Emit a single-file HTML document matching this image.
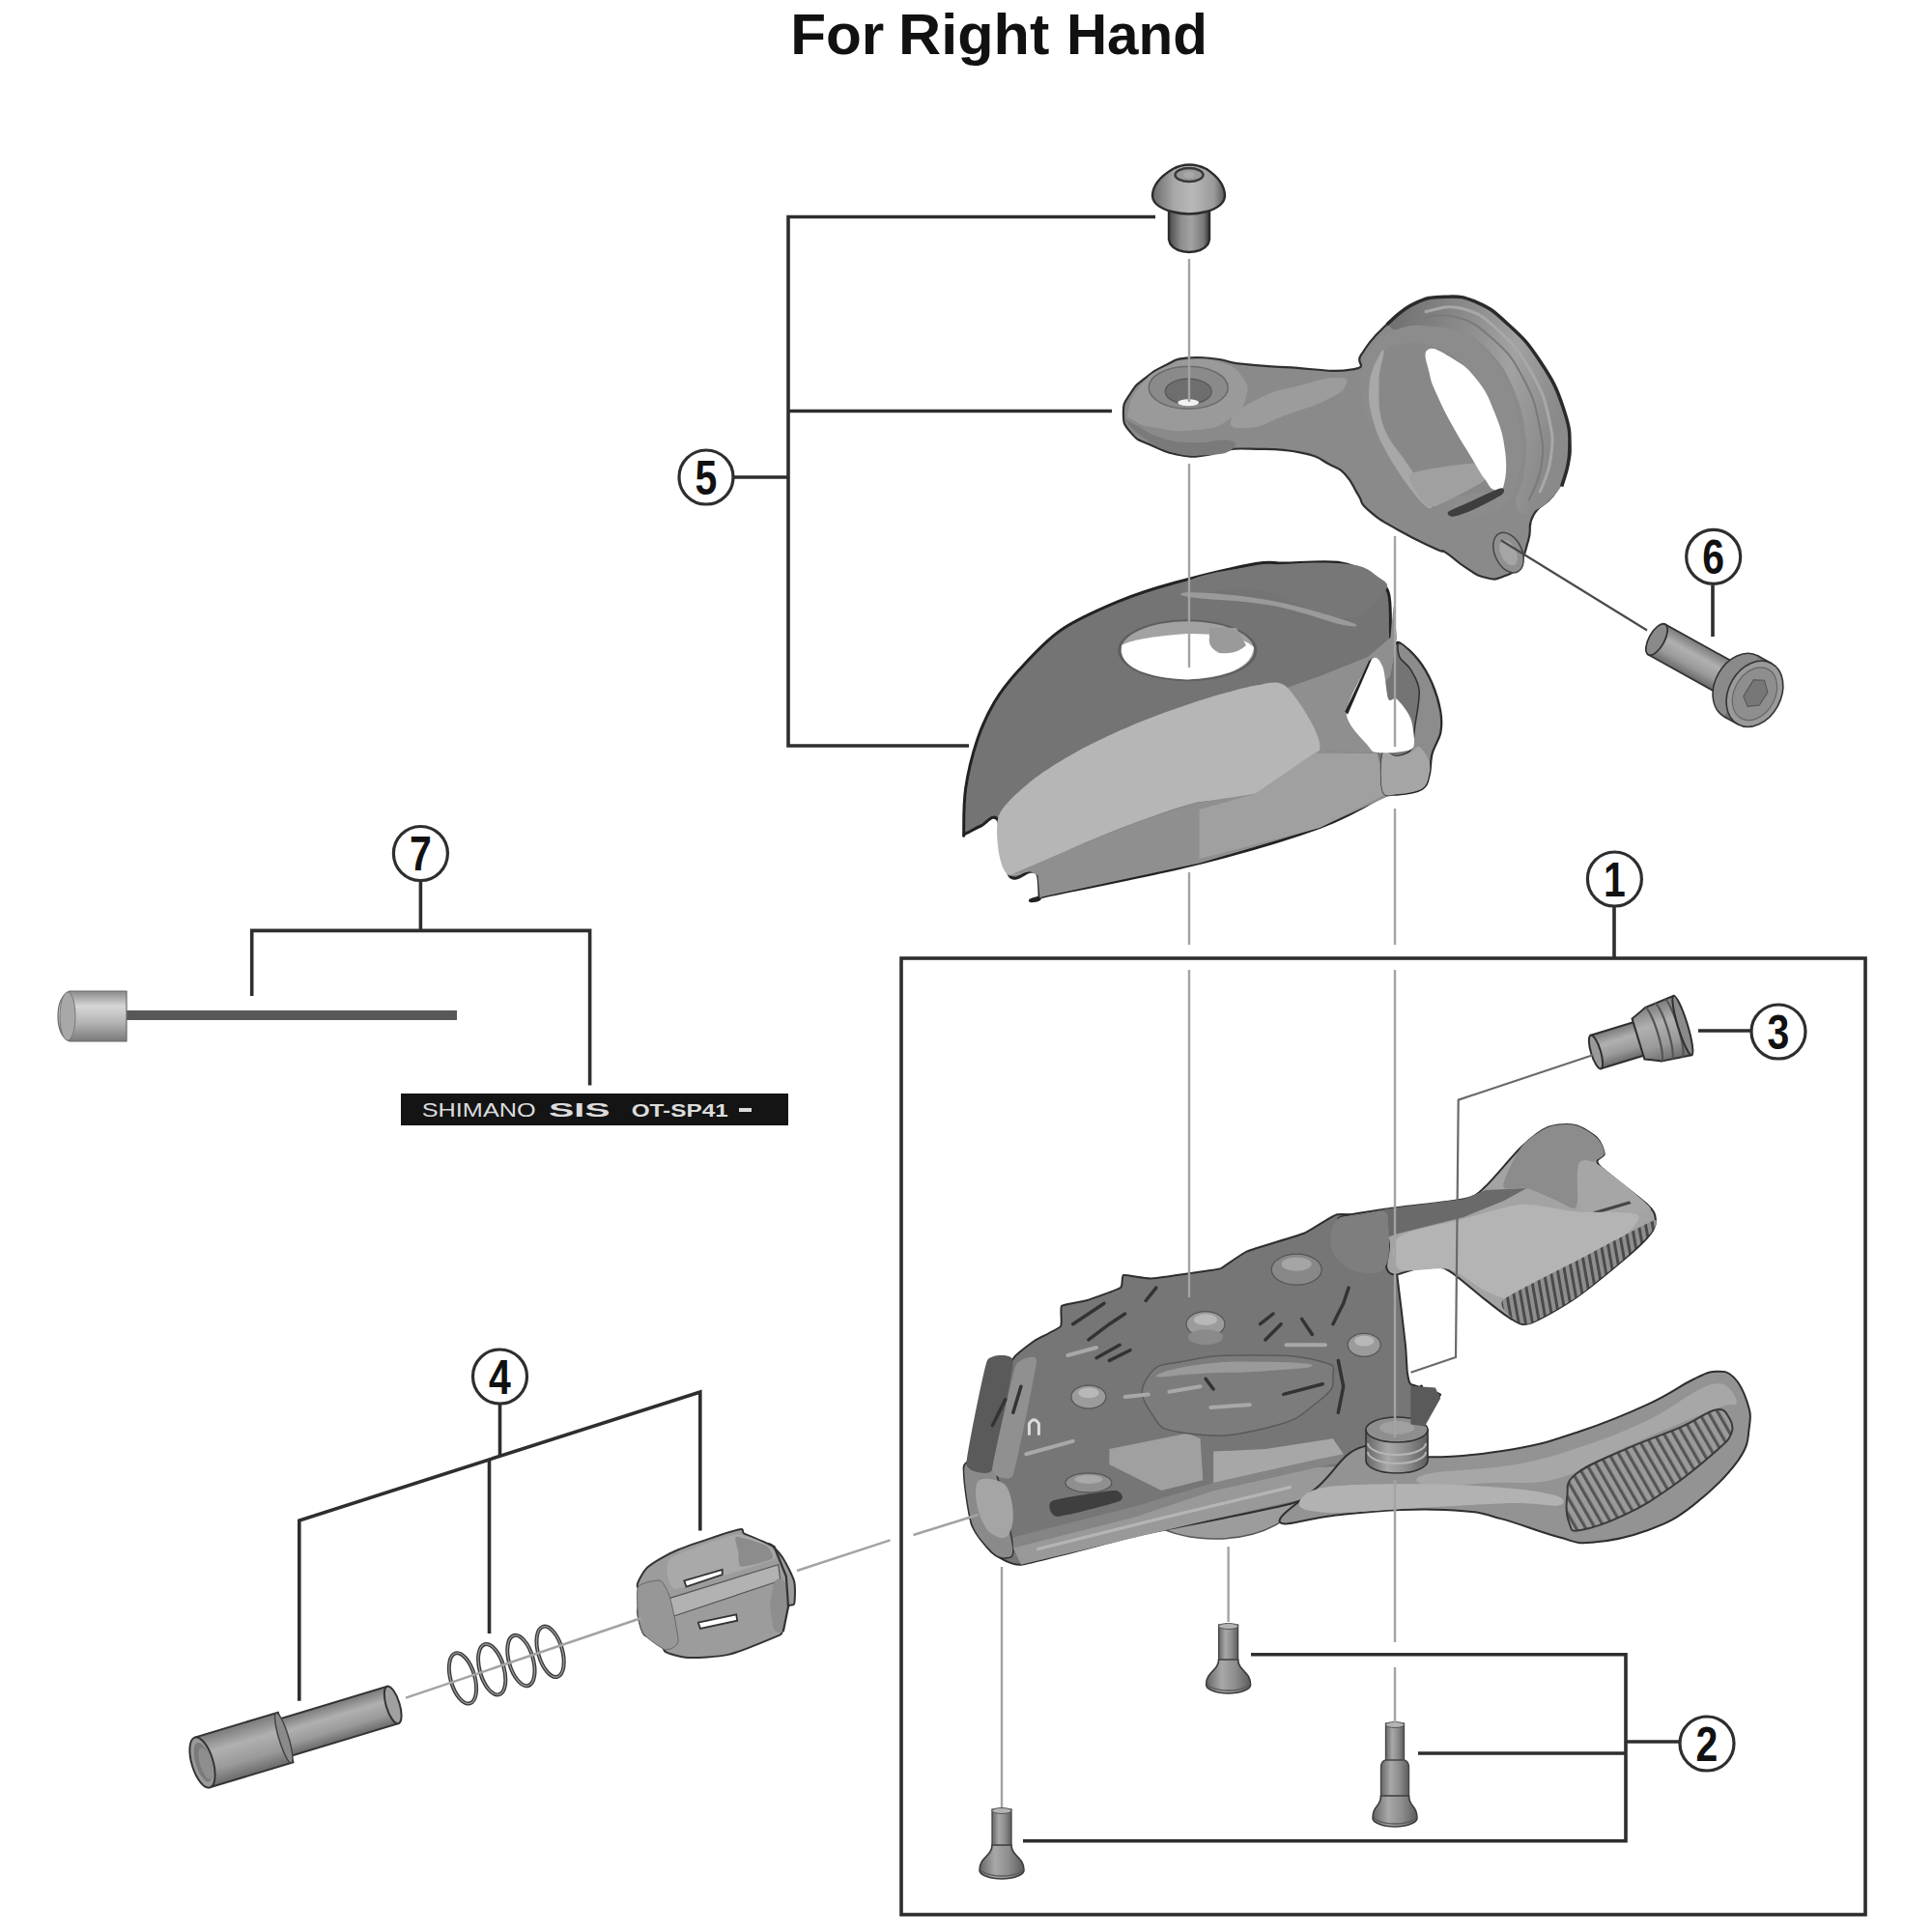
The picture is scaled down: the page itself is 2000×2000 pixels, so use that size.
<!DOCTYPE html>
<html><head><meta charset="utf-8"><style>
html,body{margin:0;padding:0;background:#fff;}
body{width:2000px;height:2000px;overflow:hidden;position:relative;font-family:"Liberation Sans",sans-serif;}
svg{position:absolute;left:0;top:0;}
</style></head><body>
<svg width="2000" height="2000" viewBox="0 0 2000 2000">
<defs>
<linearGradient id="gCylH" x1="0" x2="1" y1="0" y2="0"><stop offset="0" stop-color="#5e5e5e"/><stop offset="0.4" stop-color="#a4a4a4"/><stop offset="0.7" stop-color="#8a8a8a"/><stop offset="1" stop-color="#555"/></linearGradient>
<linearGradient id="gCylV" x1="0" x2="0" y1="0" y2="1"><stop offset="0" stop-color="#5e5e5e"/><stop offset="0.35" stop-color="#a4a4a4"/><stop offset="0.7" stop-color="#8a8a8a"/><stop offset="1" stop-color="#555"/></linearGradient>
<linearGradient id="gCylV2" x1="0" x2="0" y1="0" y2="1"><stop offset="0" stop-color="#7a7a7a"/><stop offset="0.35" stop-color="#b0b0b0"/><stop offset="0.7" stop-color="#9a9a9a"/><stop offset="1" stop-color="#6a6a6a"/></linearGradient>
<linearGradient id="gCylH2" x1="0" x2="1" y1="0" y2="0"><stop offset="0" stop-color="#666"/><stop offset="0.35" stop-color="#a8a8a8"/><stop offset="0.65" stop-color="#8e8e8e"/><stop offset="1" stop-color="#5c5c5c"/></linearGradient>
<linearGradient id="gScrewS" x1="0" x2="1" y1="0" y2="0"><stop offset="0" stop-color="#4a4a4a"/><stop offset="0.3" stop-color="#8e8e8e"/><stop offset="0.55" stop-color="#a2a2a2"/><stop offset="0.85" stop-color="#7a7a7a"/><stop offset="1" stop-color="#3a3a3a"/></linearGradient>
<linearGradient id="gScrewH" x1="0" x2="1" y1="0" y2="0"><stop offset="0" stop-color="#6a6a6a"/><stop offset="0.3" stop-color="#a8a8a8"/><stop offset="0.55" stop-color="#b8b8b8"/><stop offset="0.85" stop-color="#9a9a9a"/><stop offset="1" stop-color="#5a5a5a"/></linearGradient>
<linearGradient id="gRing2" x1="0" x2="1" y1="0" y2="0.3"><stop offset="0" stop-color="#6e6e6e"/><stop offset="0.45" stop-color="#8e8e8e"/><stop offset="0.7" stop-color="#a2a2a2"/><stop offset="1" stop-color="#8a8a8a"/></linearGradient>
<linearGradient id="gCable" x1="0" x2="0" y1="0" y2="1"><stop offset="0" stop-color="#8a8a8a"/><stop offset="0.3" stop-color="#d6d6d6"/><stop offset="0.6" stop-color="#b8b8b8"/><stop offset="1" stop-color="#7a7a7a"/></linearGradient>
<linearGradient id="gRing" x1="0" x2="1" y1="0" y2="0"><stop offset="0" stop-color="#7d7d7d"/><stop offset="0.5" stop-color="#a9a9a9"/><stop offset="1" stop-color="#8a8a8a"/></linearGradient>
<pattern id="ribs" patternUnits="userSpaceOnUse" width="8.5" height="10" patternTransform="rotate(-30)"><rect width="8.5" height="10" fill="#9a9a9a"/><rect width="3.2" height="10" fill="#555"/></pattern>
<pattern id="ribsU" patternUnits="userSpaceOnUse" width="7" height="10" patternTransform="rotate(-10)"><rect width="7" height="10" fill="#8e8e8e"/><rect width="3" height="10" fill="#4a4a4a"/></pattern>
<pattern id="ribs2" patternUnits="userSpaceOnUse" width="8" height="8" patternTransform="rotate(-20)"><rect width="8" height="8" fill="#8a8a8a"/><rect width="3.5" height="8" fill="#565656"/></pattern>
</defs>
<g font-family="Liberation Sans" font-weight="bold" font-size="60" fill="#111"><text x="818.2" y="55.5" textLength="97.1" lengthAdjust="spacingAndGlyphs">For</text><text x="930.1" y="55.5" textLength="156.2" lengthAdjust="spacingAndGlyphs">Right</text><text x="1103.9" y="55.5" textLength="145.9" lengthAdjust="spacingAndGlyphs">Hand</text></g>
<path d="M1210,214 L1252,214 L1252,248 Q1250,260 1231,261 Q1212,260 1210,248 Z" fill="url(#gScrewS)" stroke="#2c2c2c" stroke-width="2.4"/>
<path d="M1214,175 Q1231,166 1249,175 C1258,181 1268,190 1268,203 Q1267,214 1249,219 Q1231,224 1213,219 Q1194,214 1193,203 C1193,190 1204,181 1214,175 Z" fill="url(#gScrewH)" stroke="#2c2c2c" stroke-width="2.4"/>
<ellipse cx="1231" cy="181" rx="14.5" ry="7" fill="#9a9a9a" stroke="#3a3a3a" stroke-width="2.5"/>
<ellipse cx="1231" cy="181" rx="6" ry="3.2" fill="#a8a8a8"/>
<path d="M1162.9,427.2 C1162.9,416.1 1164.5,416.1 1170.7,406.5 C1176.9,396.8 1176.6,398.5 1186.2,390.9 C1195.9,383.3 1195.9,383.4 1206.9,378.0 C1218.0,372.6 1213.8,372.5 1227.6,370.7 C1241.4,369.0 1243.5,369.9 1258.7,371.5 C1273.9,373.1 1265.3,374.4 1284.6,376.7 C1303.9,379.0 1300.8,378.5 1331.2,380.1 C1361.5,381.6 1377.7,386.0 1398.4,382.7 C1419.2,379.3 1401.9,377.2 1408.8,367.6 C1415.7,358.1 1414.0,358.0 1424.3,346.9 C1434.7,335.9 1435.9,335.2 1447.6,326.2 C1459.4,317.3 1456.6,318.3 1468.3,313.3 C1480.1,308.3 1478.5,308.3 1491.6,307.6 C1504.7,306.9 1503.7,306.4 1517.5,310.7 C1531.3,315.0 1529.6,314.0 1543.4,323.6 C1557.2,333.3 1555.5,331.8 1569.3,346.9 C1583.1,362.1 1582.7,361.3 1595.1,380.6 C1607.6,399.9 1607.9,399.4 1615.8,419.4 C1623.8,439.4 1623.5,437.7 1624.9,455.6 C1626.3,473.6 1625.5,471.5 1621.0,486.7 C1616.5,501.9 1617.0,500.1 1608.1,512.6 C1599.1,525.0 1594.3,520.8 1587.4,533.3 C1580.5,545.7 1586.3,545.3 1582.2,559.2 C1578.1,573.0 1578.7,575.0 1571.8,585.0 C1564.9,595.0 1565.3,593.2 1556.3,596.7 C1547.3,600.1 1548.6,600.4 1538.2,598.0 C1527.8,595.6 1528.5,594.5 1517.5,587.6 C1506.5,580.7 1505.1,577.3 1496.8,572.1 C1488.5,566.9 1499.6,574.4 1486.4,568.2 C1473.3,562.0 1466.3,559.5 1447.6,548.8 C1429.0,538.1 1427.6,537.8 1416.6,528.1 C1405.5,518.4 1412.4,522.2 1406.2,512.6 C1400.0,502.9 1400.9,500.1 1393.3,491.9 C1385.7,483.6 1390.2,487.7 1377.7,481.5 C1365.3,475.3 1368.8,473.1 1346.7,468.6 C1324.6,464.1 1315.6,465.4 1294.9,464.7 C1274.2,464.0 1281.5,464.3 1269.0,466.0 C1256.6,467.7 1260.8,469.8 1248.3,471.2 C1235.9,472.5 1237.6,473.9 1222.5,471.2 C1207.3,468.4 1205.2,467.0 1191.4,460.8 C1177.6,454.6 1178.3,456.8 1170.7,447.9 C1163.1,438.9 1162.9,438.2 1162.9,427.2 Z" fill="#8a8a8a" stroke="#2f2f2f" stroke-width="2.2"/>
<path d="M1438.9,332.5 C1442.7,324.9 1456.3,317.0 1471.5,311.3 C1486.8,305.6 1488.9,306.5 1504.2,308.0 C1519.4,309.6 1521.6,309.5 1536.8,317.8 C1552.0,326.2 1554.2,328.3 1569.4,343.9 C1584.6,359.5 1589.8,363.8 1602.0,384.7 C1614.2,405.6 1616.2,412.7 1621.6,433.6 C1626.9,454.5 1626.7,457.3 1624.8,474.4 C1622.9,491.5 1622.6,494.1 1613.4,507.0 C1604.3,519.9 1596.0,526.0 1585.7,529.8 C1575.4,533.6 1571.3,532.4 1569.4,523.3 C1567.5,514.2 1575.3,507.8 1577.5,490.7 C1579.8,473.6 1581.8,470.9 1579.2,449.9 C1576.5,429.0 1574.9,421.2 1566.1,401.0 C1557.4,380.8 1554.2,376.8 1541.7,363.5 C1529.1,350.2 1526.8,349.6 1512.3,343.9 C1497.8,338.2 1493.0,339.0 1479.7,339.0 C1466.4,339.0 1464.7,345.4 1455.2,343.9 C1445.7,342.4 1435.1,340.1 1438.9,332.5 Z" fill="url(#gRing2)"/>
<path d="M1474.8,322.7 C1483.9,322.0 1495.7,314.5 1513.9,319.5 C1532.2,324.4 1536.3,328.3 1553.1,343.9 C1569.8,359.5 1573.9,365.4 1585.7,386.3 C1597.5,407.3 1599.1,413.1 1603.6,433.6 C1608.2,454.2 1607.5,456.5 1605.3,474.4 C1603.0,492.3 1596.5,501.9 1593.8,510.3" stroke="#a8a8a8" stroke-width="3" fill="none"/>
<path d="M1460.1,332.5 C1470.4,331.4 1484.0,323.0 1504.2,327.6 C1524.3,332.2 1529.4,336.9 1546.6,352.1 C1563.7,367.3 1566.5,371.9 1577.5,392.8 C1588.6,413.8 1589.7,420.8 1593.8,441.8 C1598.0,462.7 1598.1,464.7 1595.5,482.5 C1592.8,500.4 1585.5,510.0 1582.4,518.4" stroke="#7a7a7a" stroke-width="2" fill="none"/>
<path d="M1409.6,386.3 C1411.9,371.1 1413.9,367.6 1422.6,357.0 C1431.4,346.3 1433.8,345.2 1447.1,340.7 C1460.4,336.1 1464.1,336.3 1479.7,337.4 C1495.3,338.5 1499.5,338.7 1513.9,345.6 C1528.4,352.4 1530.2,353.4 1541.7,366.8 C1553.1,380.1 1555.3,383.2 1562.9,402.6 C1570.5,422.0 1572.0,429.4 1574.3,449.9 C1576.6,470.5 1575.7,475.1 1572.6,490.7 C1569.6,506.3 1569.6,507.3 1561.2,516.8 C1552.9,526.3 1550.1,529.2 1536.8,531.5 C1523.5,533.7 1521.3,534.2 1504.2,526.6 C1487.0,519.0 1480.5,514.8 1463.4,498.8 C1446.3,482.9 1442.6,476.0 1430.8,458.1 C1419.0,440.2 1417.8,438.9 1412.8,422.2 C1407.9,405.5 1407.3,401.5 1409.6,386.3 Z" fill="#8c8c8c"/>
<path d="M1421.0,392.8 C1421.0,375.0 1424.4,373.9 1432.4,365.1 C1440.4,356.4 1443.8,356.9 1455.2,355.3 C1466.6,353.8 1468.4,354.4 1481.3,358.6 C1494.3,362.8 1497.7,362.2 1510.7,373.3 C1523.6,384.3 1526.9,388.0 1536.8,405.9 C1546.7,423.8 1548.5,430.1 1553.1,449.9 C1557.6,469.7 1557.9,477.4 1556.3,490.7 C1554.8,504.0 1553.0,502.4 1546.6,507.0 C1540.1,511.6 1542.3,509.1 1528.6,510.3 C1514.9,511.4 1504.2,518.4 1487.8,511.9 C1471.5,505.4 1471.4,498.9 1458.5,482.5 C1445.6,466.2 1441.2,462.7 1432.4,441.8 C1423.6,420.8 1421.0,410.7 1421.0,392.8 Z" fill="#888"/>
<path d="M1417.7,396.1 C1419.0,383.1 1424.6,374.6 1427.5,368.4 C1430.4,362.2 1432.4,359.6 1432.4,365.1 C1432.4,370.7 1427.5,380.8 1427.5,396.1 C1427.5,411.4 1426.2,424.5 1432.4,441.8 C1438.6,459.1 1448.7,466.9 1458.5,482.5 C1468.3,498.2 1478.7,512.5 1481.3,520.0 C1483.9,527.6 1480.0,529.2 1471.5,520.0 C1463.1,510.9 1449.0,491.7 1438.9,474.4 C1428.8,457.1 1425.2,449.3 1421.0,433.6 C1416.7,418.0 1416.4,409.2 1417.7,396.1 Z" fill="#a8a8a8"/>
<path d="M1460.1,490.7 C1466.0,486.5 1525.8,478.6 1533.5,479.3 C1541.2,479.9 1541.3,492.8 1536.8,497.2 C1532.2,501.6 1494.0,520.9 1487.8,523.3 C1481.7,525.8 1477.6,524.9 1474.8,521.7 C1472.0,518.4 1454.3,494.9 1460.1,490.7 Z" fill="#a0a0a0"/>
<path d="M1478.1,361.9 C1483.8,358.4 1492.4,364.4 1504.2,371.6 C1516.0,378.9 1518.7,380.3 1528.6,392.8 C1538.5,405.4 1539.7,408.3 1546.6,425.5 C1553.4,442.6 1555.7,448.0 1558.0,466.2 C1560.3,484.5 1559.0,494.2 1556.3,503.7 C1553.7,513.3 1551.1,508.9 1546.6,507.0 C1542.0,505.1 1542.1,503.2 1536.8,495.6 C1531.4,488.0 1531.3,486.9 1523.7,474.4 C1516.1,461.8 1512.5,457.0 1504.2,441.8 C1495.8,426.6 1493.6,422.1 1487.8,409.2 C1482.1,396.2 1482.0,397.4 1479.7,386.3 C1477.4,375.3 1472.4,365.3 1478.1,361.9 Z" fill="#fff"/>
<path d="M1435.7,335.8 C1442.1,330.8 1449.3,321.2 1463.4,314.6 C1477.5,307.9 1480.8,307.6 1496.0,307.2 C1511.2,306.9 1513.4,306.3 1528.6,312.9 C1543.8,319.6 1546.0,321.7 1561.2,335.8 C1576.5,349.8 1580.5,353.1 1593.8,373.3 C1607.2,393.4 1611.1,400.5 1618.3,422.2 C1625.5,443.9 1625.2,447.2 1624.8,466.2 C1624.5,485.3 1618.6,495.0 1616.7,503.7" stroke="#2a2a2a" stroke-width="3.5" fill="none"/>
<path d="M1499.3,529.8 C1501.4,527.9 1513.3,523.3 1520.5,520.0 C1527.6,516.8 1548.5,506.5 1553.1,505.4 C1557.6,504.3 1558.6,508.9 1554.7,511.9 C1550.8,514.9 1530.5,525.2 1523.7,528.2 C1517.0,531.2 1507.4,534.5 1504.2,534.7 C1500.9,534.9 1497.1,531.8 1499.3,529.8 Z" fill="#3e3e3e"/>
<ellipse cx="1561.5" cy="572.1" rx="14" ry="22" transform="rotate(-25 1561.5 572.1)" fill="#8f8f8f" stroke="#444" stroke-width="1.5"/>
<ellipse cx="1561.5" cy="572.1" rx="8" ry="14" transform="rotate(-25 1561.5 572.1)" fill="#a5a5a5"/>
<path d="M1274.2,434.9 C1277.0,426.6 1286.0,421.3 1305.3,411.6 C1324.6,402.0 1326.0,404.2 1346.7,398.7 C1367.4,393.2 1370.5,390.9 1382.9,390.9 C1395.3,390.9 1396.0,392.5 1393.3,398.7 C1390.5,404.9 1389.1,405.9 1372.6,414.2 C1356.0,422.5 1351.9,422.2 1331.2,429.8 C1310.5,437.3 1310.1,441.3 1294.9,442.7 C1279.7,444.1 1271.5,443.2 1274.2,434.9 Z" fill="#9c9c9c"/>
<path d="M1168.1,424.6 C1170.2,414.9 1170.7,410.8 1181.1,398.7 C1191.4,386.6 1192.4,386.3 1206.9,379.3 C1221.4,372.2 1220.2,373.3 1235.4,372.3 C1250.6,371.3 1250.8,371.1 1263.9,375.4 C1277.0,379.7 1277.7,378.7 1284.6,388.3 C1291.5,398.0 1293.2,399.2 1289.8,411.6 C1286.3,424.1 1286.1,426.0 1271.6,434.9 C1257.1,443.9 1255.4,443.2 1235.4,445.3 C1215.4,447.3 1213.1,445.5 1196.6,442.7 C1180.0,439.9 1180.9,439.8 1173.3,434.9 C1165.7,430.1 1166.0,434.2 1168.1,424.6 Z" fill="#9a9a9a"/>
<ellipse cx="1230.2" cy="401.3" rx="41" ry="22" fill="#8a8a8a" stroke="#6a6a6a" stroke-width="1.5"/>
<ellipse cx="1230.2" cy="405.2" rx="24" ry="13" fill="#6e6e6e" stroke="#555" stroke-width="1.2"/>
<ellipse cx="1230.2" cy="416.8" rx="11" ry="3.5" fill="#f2f2f2"/>
<path d="M1165.5,434.9 C1167.6,438.4 1170.5,444.1 1183.6,453.0 C1196.8,462.0 1197.4,463.7 1214.7,468.6 C1232.0,473.4 1232.5,471.8 1248.3,471.2 C1264.2,470.5 1268.0,470.1 1274.2,466.0 C1280.4,461.8 1282.0,457.7 1271.6,455.6 C1261.3,453.6 1254.0,458.9 1235.4,458.2 C1216.8,457.5 1217.6,457.9 1201.8,453.0 C1185.9,448.2 1185.5,444.9 1175.9,440.1 C1166.2,435.3 1163.5,431.5 1165.5,434.9 Z" fill="#7a7a7a"/>
<path d="M997.7,860.9 C997.7,853.1 997.4,831.4 999.7,815.7 C1002.0,800.0 1006.6,781.3 1011.5,766.5 C1016.4,751.8 1022.0,739.3 1029.2,727.2 C1036.4,715.1 1043.3,706.2 1054.7,693.8 C1066.2,681.3 1081.0,664.2 1098.0,652.4 C1115.1,640.6 1137.4,631.1 1157.0,622.9 C1176.7,614.7 1192.2,609.8 1216.0,603.3 C1239.9,596.7 1281.0,587.0 1300.0,583.6 C1319.0,580.2 1315.8,583.3 1330.0,583.0 C1344.2,582.8 1370.6,580.4 1385.1,582.3 C1399.6,584.3 1408.3,589.4 1417.0,594.6 C1425.7,599.8 1433.4,601.9 1437.2,613.5 C1441.1,625.1 1438.2,655.5 1440.1,664.2 C1442.1,672.9 1444.3,662.5 1448.8,665.7 C1453.4,668.8 1462.1,676.0 1467.7,683.0 C1473.2,690.0 1478.3,698.7 1482.2,707.7 C1486.0,716.6 1489.4,728.2 1490.9,736.7 C1492.3,745.1 1492.3,751.2 1490.9,758.4 C1489.4,765.7 1484.1,772.9 1482.2,780.1 C1480.2,787.4 1481.0,795.8 1479.3,801.9 C1477.6,807.9 1477.6,813.0 1472.0,816.4 C1466.5,819.8 1452.7,821.7 1445.9,822.2 C1439.2,822.7 1433.7,819.1 1431.4,819.3 C1429.2,819.5 1443.6,817.1 1432.7,823.3 C1421.8,829.6 1397.7,845.0 1366.0,856.7 C1334.3,868.3 1290.4,881.4 1242.7,893.3 C1194.9,905.3 1107.0,922.3 1079.3,928.3 C1051.6,934.4 1077.2,933.5 1076.4,929.8 C1075.6,926.1 1076.1,910.8 1074.4,906.2 C1072.8,901.6 1071.5,902.3 1066.5,902.3 C1061.6,902.3 1050.5,915.0 1044.9,906.2 C1039.3,897.3 1038.0,857.7 1033.1,849.1 C1028.2,840.6 1021.0,852.7 1015.4,855.0 C1009.8,857.3 1002.6,861.9 999.7,862.9 C996.7,863.9 997.7,868.8 997.7,860.9 Z" fill="#747474" stroke="#222" stroke-width="3" stroke-linejoin="round"/>
<path d="M1232.7,616.7 C1246.0,618.7 1268.0,605.3 1299.3,610.0 C1330.7,614.7 1362.7,639.3 1389.3,640.0 C1416.0,640.7 1425.3,622.0 1432.7,613.3 C1440.0,604.7 1434.7,602.7 1426.0,596.7 C1417.3,590.7 1414.7,585.3 1389.3,583.3 C1364.0,581.3 1330.7,583.3 1299.3,586.7 C1268.0,590.0 1246.0,594.0 1232.7,600.0 C1219.3,606.0 1219.3,614.7 1232.7,616.7 Z" fill="#777"/>
<path d="M1232.7,618.3 C1248.7,621.0 1284.7,621.0 1316.0,626.7 C1347.3,632.3 1373.3,643.3 1389.3,646.7 C1405.3,650.0 1410.7,648.3 1396.0,643.3 C1381.3,638.3 1348.0,627.7 1316.0,621.7 C1284.0,615.7 1252.7,614.0 1236.0,613.3 C1219.3,612.7 1216.7,615.7 1232.7,618.3 Z" fill="#9a9a9a"/>
<path d="M1332.7,711.7 L1366.0,700.0 L1399.3,686.7 L1416.0,680.0 L1439.3,660.0 L1442.7,626.7 L1446.0,660.0 L1439.3,700.0 L1409.3,733.3 L1396.0,746.7 L1426.0,780.0 L1366.0,776.7 Z" fill="#8f8f8f"/>
<path d="M1033.1,847.2 C1036.3,834.1 1057.2,817.3 1068.5,807.8 C1079.8,798.4 1103.3,784.2 1117.7,776.4 C1132.1,768.5 1161.0,755.4 1176.7,748.8 C1192.4,742.3 1219.3,732.4 1235.7,727.2 C1252.1,721.9 1287.1,711.6 1300.0,709.5 C1313.0,707.4 1323.9,702.7 1332.7,711.7 C1341.5,720.6 1370.4,762.0 1366.0,776.7 C1361.6,791.3 1317.4,814.3 1300.0,821.6 C1282.7,828.9 1252.1,827.5 1235.7,831.4 C1219.3,835.4 1192.4,845.3 1176.7,851.1 C1161.0,856.9 1135.3,867.4 1117.7,874.7 C1100.1,882.1 1056.2,909.9 1044.9,906.2 C1033.6,902.5 1030.0,860.3 1033.1,847.2 Z" fill="#b6b6b6"/>
<path d="M1044.9,906.2 L1117.7,874.7 L1176.7,851.1 L1235.7,831.4 L1300.0,821.6 L1366.0,776.7 L1426.0,780.0 L1439.3,823.3 L1366.0,856.7 L1242.7,893.3 L1079.3,928.3 L1076.4,929.8 L1074.4,906.2 L1066.5,902.3 Z" fill="#8f8f8f"/>
<path d="M1241.5,838.0 L1300.0,821.6 L1360.0,780.0 L1426.0,780.0 L1433.0,823.0 L1366.0,857.0 L1241.5,889.0 Z" fill="#a0a0a0"/>
<path d="M1448.8,665.7 C1452.0,666.1 1462.1,676.0 1467.7,683.0 C1473.2,690.0 1478.3,698.7 1482.2,707.7 C1486.0,716.6 1489.4,728.2 1490.9,736.7 C1492.3,745.1 1492.3,751.2 1490.9,758.4 C1489.4,765.7 1484.1,772.9 1482.2,780.1 C1480.2,787.4 1481.0,795.8 1479.3,801.9 C1477.6,807.9 1477.6,813.0 1472.0,816.4 C1466.5,819.8 1452.7,821.7 1445.9,822.2 C1439.2,822.7 1433.9,826.3 1431.4,819.3 C1429.0,812.3 1429.0,786.2 1431.4,780.1 C1433.9,774.1 1441.1,783.8 1445.9,783.0 C1450.8,782.3 1457.3,781.1 1460.4,775.8 C1463.6,770.5 1463.3,761.3 1464.8,751.2 C1466.2,741.0 1469.9,724.6 1469.1,714.9 C1468.4,705.3 1463.8,699.0 1460.4,693.2 C1457.1,687.4 1450.8,684.7 1448.8,680.1 C1446.9,675.6 1445.7,665.2 1448.8,665.7 Z" fill="#8c8c8c" stroke="#2f2f2f" stroke-width="1.5"/>
<path d="M1431.4,780.1 C1433.9,774.1 1441.1,783.3 1445.9,783.0 C1450.8,782.8 1456.6,780.4 1460.4,778.7 C1464.3,777.0 1466.0,771.4 1469.1,772.9 C1472.3,774.3 1477.6,782.6 1479.3,787.4 C1481.0,792.2 1480.5,797.1 1479.3,801.9 C1478.1,806.7 1477.6,813.0 1472.0,816.4 C1466.5,819.8 1452.7,821.7 1445.9,822.2 C1439.2,822.7 1433.9,826.3 1431.4,819.3 C1429.0,812.3 1429.0,786.2 1431.4,780.1 Z" fill="#a5a5a5"/>
<path d="M1393.8,738.1 C1394.2,726.1 1414.8,689.4 1419.9,683.0 C1424.9,676.7 1429.1,684.9 1431.4,690.3 C1433.8,695.7 1435.3,719.2 1437.2,723.6 C1439.2,728.1 1442.9,720.9 1445.9,723.6 C1449.0,726.3 1458.1,737.3 1460.4,743.9 C1462.8,750.5 1465.3,768.3 1463.3,772.9 C1461.4,777.5 1451.2,777.9 1445.9,778.7 C1440.7,779.5 1428.1,779.5 1424.2,778.7 C1420.3,777.9 1421.0,778.3 1417.0,772.9 C1412.9,767.5 1393.4,750.1 1393.8,738.1 Z" fill="#fff"/>
<path d="M1392.3,736.7 L1417.0,684.5 L1419.9,681.6 L1418.4,685.9 L1395.2,739.6 Z" fill="#222"/>
<ellipse cx="1229.3" cy="673.3" rx="72" ry="32" fill="#5e5e5e"/>
<ellipse cx="1229.3" cy="673.3" rx="69" ry="30" fill="#a2a2a2"/>
<path d="M1161,668 Q1175,660 1229,656 Q1285,656 1298,670 Q1295,700 1229,703.5 Q1165,700 1161,675 Z" fill="#fff"/>
<path d="M1252,650 L1280,650 L1290,668 Q1280,678 1262,676 Q1250,670 1252,660 Z" fill="#9a9a9a"/>
<g transform="translate(1715,662) rotate(29)"><rect x="0" y="-18" width="102" height="36" fill="url(#gCylV2)" stroke="#333" stroke-width="1.8"/><ellipse cx="0" cy="0" rx="8" ry="18" fill="#8a8a8a" stroke="#333" stroke-width="1.8"/><ellipse cx="100" cy="0" rx="27" ry="36" fill="#8a8a8a" stroke="#333" stroke-width="1.6"/><rect x="100" y="-36" width="16" height="72" fill="url(#gCylV2)"/><line x1="100" y1="-36" x2="116" y2="-36" stroke="#333" stroke-width="1.6"/><line x1="100" y1="36" x2="116" y2="36" stroke="#333" stroke-width="1.6"/><ellipse cx="116" cy="0" rx="27" ry="36" fill="#9a9a9a" stroke="#333" stroke-width="1.6"/><ellipse cx="116" cy="0" rx="21" ry="29" fill="#8e8e8e" stroke="#666" stroke-width="1.2"/><path d="M108,-12 L118,-17 L127,-8 L126,8 L116,15 L107,8 Z" fill="#777" stroke="#555" stroke-width="1"/></g>
<rect x="131" y="1046" width="342" height="10" fill="#585858"/>
<path d="M72,1026 L131,1026 L131,1078 L72,1078 Q60,1072 60,1052 Q60,1032 72,1026 Z" fill="url(#gCable)" stroke="#6a6a6a" stroke-width="1.2"/>
<ellipse cx="70" cy="1052" rx="8" ry="25" fill="#a8a8a8" stroke="#777" stroke-width="1"/>
<rect x="415" y="1132" width="401" height="33" fill="#141414"/>
<g font-family="Liberation Sans" fill="#dcdcdc"><text x="436.7" y="1155.5" font-size="20" textLength="118" lengthAdjust="spacingAndGlyphs">SHIMANO</text><text x="568" y="1155.5" font-size="21" font-weight="bold" textLength="63.5" lengthAdjust="spacingAndGlyphs">SIS</text><text x="653.7" y="1155.5" font-size="19" font-weight="bold" textLength="100" lengthAdjust="spacingAndGlyphs">OT-SP41</text><rect x="765" y="1147" width="13" height="4"/></g>
<g transform="translate(1652,1089) rotate(-17)"><rect x="0" y="-18" width="52" height="36" fill="url(#gCylV2)" stroke="#2e2e2e" stroke-width="2"/><ellipse cx="0" cy="0" rx="5" ry="18" fill="#9a9a9a" stroke="#2e2e2e" stroke-width="2"/><path d="M46,-22 Q56,-26 62,-29 L94,-32 L94,32 L62,29 Q56,26 46,22 Z" fill="url(#gCylV2)" stroke="#2e2e2e" stroke-width="2"/><path d="M62,-29 A5,29 0 0 1 62,29 M73,-30 A5,30 0 0 1 73,30 M84,-31 A5,31 0 0 1 84,31" stroke="#555" stroke-width="2.2" fill="none"/><ellipse cx="94" cy="0" rx="5" ry="32" fill="#8a8a8a" stroke="#2e2e2e" stroke-width="2"/></g>
<ellipse cx="1258" cy="1545" rx="88" ry="48" fill="#9c9c9c" stroke="#555" stroke-width="1.5"/>
<path d="M997.7,1518.8 C997.7,1523.4 1003.8,1572.1 1005.8,1578.0 C1007.7,1583.9 1023.9,1604.8 1027.3,1607.6 C1030.7,1610.4 1046.7,1621.0 1056.9,1619.7 C1067.1,1618.5 1162.1,1593.0 1180.7,1588.8 C1199.4,1584.6 1319.7,1561.6 1336.9,1556.5 C1354.0,1551.4 1429.5,1515.8 1438.7,1512.6 C1447.9,1509.4 1472.4,1510.9 1474.9,1509.0 C1477.5,1507.1 1477.7,1485.9 1476.7,1483.6 C1475.8,1481.3 1459.5,1477.2 1460.4,1474.6 C1461.4,1471.9 1491.2,1446.5 1491.2,1443.8 C1491.2,1441.0 1462.7,1434.5 1460.4,1432.9 C1458.1,1431.3 1457.2,1422.9 1456.8,1420.2 C1456.4,1417.6 1455.7,1399.9 1455.0,1393.0 C1454.3,1386.2 1447.0,1324.2 1445.9,1317.0 C1444.9,1309.7 1439.7,1288.1 1438.7,1284.3 C1437.7,1280.6 1435.1,1262.6 1431.4,1260.8 C1427.8,1259.0 1389.8,1256.1 1384.3,1257.2 C1378.9,1258.2 1356.5,1274.0 1350.3,1276.5 C1344.1,1279.1 1296.8,1292.9 1291.1,1295.4 C1285.3,1297.8 1266.9,1311.5 1264.2,1312.9 C1261.4,1314.2 1254.8,1314.7 1250.0,1315.4 C1245.2,1316.1 1197.7,1323.1 1191.9,1323.4 C1186.1,1323.7 1165.1,1319.4 1163.0,1320.0 C1160.9,1320.6 1162.6,1331.2 1160.0,1333.0 C1157.4,1334.8 1128.7,1345.0 1124.6,1346.3 C1120.5,1347.6 1100.8,1350.2 1099.0,1352.0 C1097.2,1353.8 1099.9,1370.6 1098.0,1373.0 C1096.1,1375.4 1074.0,1385.9 1070.8,1388.0 C1067.6,1390.1 1053.0,1401.3 1050.6,1404.2 C1048.2,1407.1 1036.5,1427.4 1034.4,1431.8 C1032.3,1436.2 1020.7,1465.4 1018.8,1470.6 C1016.9,1475.8 1007.3,1506.2 1005.9,1509.4 C1004.5,1512.6 997.7,1514.2 997.7,1518.8 Z" fill="#767676" stroke="#2e2e2e" stroke-width="2" stroke-linejoin="round"/>
<path d="M997.7,1518.8 C998.8,1510.2 1009.5,1513.0 1013.8,1513.4 C1018.1,1513.8 1025.3,1509.6 1030.0,1521.5 C1034.7,1533.3 1047.4,1590.0 1048.8,1602.2 C1050.3,1614.4 1043.6,1612.3 1040.8,1613.0 C1037.9,1613.7 1032.0,1612.3 1027.3,1607.6 C1022.6,1603.0 1009.7,1589.9 1005.8,1578.0 C1001.8,1566.2 996.6,1527.4 997.7,1518.8 Z" fill="#8a8a8a" stroke="#333" stroke-width="1.5"/>
<path d="M1013.8,1532.2 C1018.8,1529.1 1034.9,1531.4 1040.8,1537.6 C1046.6,1543.9 1048.8,1561.0 1048.8,1569.9 C1048.8,1578.9 1045.2,1589.2 1040.8,1591.5 C1036.3,1593.7 1026.8,1589.2 1021.9,1583.4 C1017.0,1577.6 1012.5,1565.0 1011.1,1556.5 C1009.8,1547.9 1008.9,1535.4 1013.8,1532.2 Z" fill="#a5a5a5"/>
<path d="M1000.4,1516.1 C1000.0,1508.6 1018.7,1415.6 1021.9,1408.4 C1025.1,1401.2 1048.5,1400.9 1048.8,1408.4 C1049.2,1416.0 1030.5,1514.3 1027.3,1521.5 C1024.1,1528.7 1000.7,1523.6 1000.4,1516.1 Z" fill="#5a5a5a"/>
<path d="M1027.3,1521.5 C1027.5,1513.9 1048.5,1421.3 1051.5,1413.8 C1054.6,1406.3 1073.2,1400.9 1073.1,1408.4 C1072.9,1416.0 1051.9,1519.3 1048.8,1526.9 C1045.8,1534.4 1027.1,1529.0 1027.3,1521.5 Z" fill="#909090"/>
<path d="M1048.8,1602.2 L1175.3,1569.9 L1256.1,1543.0 L1363.8,1518.8 L1480.1,1516.1 L1480.1,1543.0 L1363.8,1548.4 L1256.1,1572.6 L1175.3,1591.5 L1056.9,1619.7 Z" fill="#999"/>
<path d="M1048.8,1591.5 L1175.3,1559.2 L1256.1,1534.9 L1363.8,1510.7 L1390.7,1505.3 L1390.7,1513.4 L1363.8,1518.8 L1256.1,1543.0 L1175.3,1569.9 L1048.8,1602.2 Z" fill="#858585"/>
<path d="M1073.1,1602.2 L1202.3,1569.9 L1336.9,1537.6 L1336.9,1540.9 L1202.3,1573.2 L1073.1,1605.5 Z" fill="#b5b5b5"/>
<path d="M1256.1,1502.6 L1309.9,1499.9 L1379.9,1489.2 L1390.7,1505.3 L1363.8,1510.7 L1256.1,1534.9 Z" fill="#a7a7a7"/>
<path d="M1148.4,1499.9 L1229.2,1483.8 L1242.6,1489.2 L1245.3,1532.2 L1202.3,1543.0 L1148.4,1516.1 Z" fill="#a0a0a0"/>
<path d="M1188.8,1424.6 C1198.9,1410.2 1200.5,1414.2 1229.2,1408.4 C1257.9,1402.7 1260.6,1403.0 1296.5,1403.0 C1332.4,1403.0 1341.5,1402.7 1363.8,1408.4 C1386.0,1414.2 1379.9,1413.1 1379.9,1424.6 C1379.9,1436.1 1382.4,1437.1 1363.8,1451.5 C1345.1,1465.9 1345.8,1469.8 1309.9,1478.4 C1274.0,1487.0 1260.8,1488.1 1229.2,1483.8 C1197.6,1479.5 1202.3,1478.1 1191.5,1462.3 C1180.7,1446.5 1178.8,1438.9 1188.8,1424.6 Z" fill="#7c7c7c" stroke="#5a5a5a" stroke-width="1.5"/>
<path d="M1196.9,1424.6 C1196.9,1422.1 1212.5,1416.4 1242.6,1412.5 C1272.8,1408.5 1279.1,1409.4 1309.9,1409.8 C1340.8,1410.1 1358.4,1411.3 1358.4,1413.8 C1358.4,1416.3 1340.8,1417.0 1309.9,1419.2 C1279.1,1421.3 1272.8,1420.4 1242.6,1421.9 C1212.5,1423.3 1196.9,1427.1 1196.9,1424.6 Z" fill="#9a9a9a"/>
<ellipse cx="1248.0" cy="1370.7" rx="20" ry="13" fill="#9b9b9b" stroke="#555" stroke-width="1.2"/><ellipse cx="1248.0" cy="1366.2" rx="12.0" ry="5.9" fill="#b8b8b8"/>
<ellipse cx="1248.0" cy="1384.2" rx="18" ry="8" fill="#8a8a8a"/>
<ellipse cx="1342.2" cy="1314.2" rx="26" ry="16" fill="#888" stroke="#555" stroke-width="1.2"/><ellipse cx="1342.2" cy="1308.6" rx="15.6" ry="7.2" fill="#a5a5a5"/>
<ellipse cx="1126.9" cy="1446.1" rx="18" ry="12" fill="#9b9b9b" stroke="#555" stroke-width="1.2"/><ellipse cx="1126.9" cy="1441.9" rx="10.8" ry="5.4" fill="#b8b8b8"/>
<ellipse cx="1412.2" cy="1392.3" rx="17" ry="12" fill="#9b9b9b" stroke="#555" stroke-width="1.2"/><ellipse cx="1412.2" cy="1388.1" rx="10.2" ry="5.4" fill="#b8b8b8"/>
<ellipse cx="1126.9" cy="1534.9" rx="24" ry="10" fill="#8f8f8f" stroke="#555" stroke-width="1.2"/><ellipse cx="1126.9" cy="1531.4" rx="14.4" ry="4.5" fill="#a9a9a9"/>
<path d="M1089.2,1553.8 C1095.1,1551.1 1146.8,1543.0 1153.8,1543.0 C1160.8,1543.0 1165.1,1551.1 1159.2,1553.8 C1153.3,1556.5 1101.6,1569.9 1094.6,1569.9 C1087.6,1569.9 1083.3,1556.5 1089.2,1553.8 Z" fill="#3f3f3f"/>
<path d="M1110.7,1370.7 L1126.9,1360.0 L1143.0,1349.2" stroke="#333" stroke-width="3.5" fill="none" stroke-linecap="round"/>
<path d="M1126.9,1386.9 L1148.4,1370.7 L1164.6,1360.0" stroke="#333" stroke-width="3.5" fill="none" stroke-linecap="round"/>
<path d="M1135.0,1405.7 L1159.2,1392.3" stroke="#333" stroke-width="3.5" fill="none" stroke-linecap="round"/>
<path d="M1148.4,1408.4 L1170.0,1397.7" stroke="#333" stroke-width="3.5" fill="none" stroke-linecap="round"/>
<path d="M1248.0,1427.3 L1256.1,1438.0" stroke="#333" stroke-width="3.5" fill="none" stroke-linecap="round"/>
<path d="M1304.5,1370.7 L1318.0,1360.0" stroke="#333" stroke-width="3.5" fill="none" stroke-linecap="round"/>
<path d="M1309.9,1386.9 L1326.1,1370.7" stroke="#333" stroke-width="3.5" fill="none" stroke-linecap="round"/>
<path d="M1347.6,1365.4 L1358.4,1381.5" stroke="#333" stroke-width="3.5" fill="none" stroke-linecap="round"/>
<path d="M1379.9,1370.7 L1390.7,1349.2 L1396.1,1333.1" stroke="#333" stroke-width="3.5" fill="none" stroke-linecap="round"/>
<path d="M1385.3,1408.4 L1390.7,1435.3 L1385.3,1462.3" stroke="#333" stroke-width="3.5" fill="none" stroke-linecap="round"/>
<path d="M1328.8,1443.4 L1369.2,1432.7" stroke="#333" stroke-width="3.5" fill="none" stroke-linecap="round"/>
<path d="M1056.9,1435.3 L1048.8,1462.3" stroke="#333" stroke-width="3.5" fill="none" stroke-linecap="round"/>
<path d="M1040.8,1448.8 L1027.3,1475.7" stroke="#333" stroke-width="3.5" fill="none" stroke-linecap="round"/>
<path d="M1186.1,1346.5 L1196.9,1333.1" stroke="#333" stroke-width="3.5" fill="none" stroke-linecap="round"/>
<path d="M1471.4,1435.3 L1466.1,1462.3" stroke="#333" stroke-width="3.5" fill="none" stroke-linecap="round"/>
<path d="M1105.4,1403.0 L1135.0,1395.0" stroke="#a8a8a8" stroke-width="4" fill="none" stroke-linecap="round"/>
<path d="M1210.3,1440.7 L1242.6,1435.3" stroke="#a8a8a8" stroke-width="4" fill="none" stroke-linecap="round"/>
<path d="M1331.5,1392.3 L1371.8,1392.3" stroke="#a8a8a8" stroke-width="4" fill="none" stroke-linecap="round"/>
<path d="M1164.6,1446.1 L1188.8,1443.4" stroke="#a8a8a8" stroke-width="4" fill="none" stroke-linecap="round"/>
<path d="M1253.4,1456.9 L1293.8,1454.2" stroke="#a8a8a8" stroke-width="4" fill="none" stroke-linecap="round"/>
<path d="M1062.3,1505.3 L1110.7,1491.9" stroke="#a8a8a8" stroke-width="4" fill="none" stroke-linecap="round"/>
<path d="M1065.4,1485.7 L1065.4,1473.7 Q1070.4,1465.7 1075.4,1473.7 L1075.4,1485.7" stroke="#ddd" stroke-width="3" fill="none"/>
<path d="M1476.4,1508.3 C1507.4,1508.9 1534.4,1505.5 1566.3,1500.2 C1598.3,1494.8 1608.3,1490.8 1636.2,1481.5 C1664.2,1472.2 1682.8,1464.3 1706.1,1453.6 C1729.4,1442.9 1738.7,1434.7 1752.7,1428.0 C1766.7,1421.2 1767.6,1420.3 1776.0,1419.8 C1784.4,1419.3 1788.1,1419.3 1794.6,1425.6 C1801.2,1431.9 1805.3,1441.0 1808.6,1451.2 C1811.9,1461.5 1812.8,1464.8 1810.9,1476.9 C1809.1,1489.0 1810.9,1495.5 1799.3,1511.8 C1787.6,1528.1 1771.3,1544.0 1752.7,1558.4 C1734.1,1572.8 1727.1,1576.3 1706.1,1584.0 C1685.1,1591.7 1666.5,1595.4 1647.9,1596.8 C1629.2,1598.2 1631.6,1595.9 1612.9,1591.0 C1594.3,1586.1 1574.3,1577.7 1554.7,1572.4 C1535.1,1567.0 1536.1,1566.1 1515.1,1564.2 C1494.1,1562.4 1476.9,1562.1 1449.9,1563.1 C1422.9,1564.0 1405.0,1566.4 1380.0,1568.9 C1355.0,1571.3 1327.6,1581.7 1324.8,1575.4 C1322.0,1569.1 1348.6,1553.0 1366.0,1537.4 C1383.4,1521.8 1389.6,1503.2 1411.7,1497.4 C1433.8,1491.5 1445.5,1507.8 1476.4,1508.3 Z" fill="#939393" stroke="#2e2e2e" stroke-width="2"/>
<path d="M1477.8,1525.8 C1495.5,1521.6 1534.7,1522.1 1566.3,1516.5 C1598.0,1510.9 1608.3,1507.2 1636.2,1497.8 C1664.2,1488.5 1682.8,1481.1 1706.1,1469.9 C1729.4,1458.7 1738.7,1449.4 1752.7,1441.9 C1766.7,1434.5 1768.5,1433.5 1776.0,1432.6 C1783.4,1431.7 1785.8,1433.1 1790.0,1437.3 C1794.2,1441.5 1799.8,1449.4 1797.0,1453.6 C1794.2,1457.8 1798.8,1449.4 1776.0,1458.2 C1753.2,1467.1 1715.4,1483.4 1682.8,1497.8 C1650.2,1512.3 1640.9,1523.0 1612.9,1530.4 C1585.0,1537.9 1570.1,1533.7 1543.1,1535.1 C1516.0,1536.5 1490.9,1539.3 1477.8,1537.4 C1464.8,1535.6 1460.1,1530.0 1477.8,1525.8 Z" fill="#a7a7a7"/>
<path d="M1345.1,1558.4 C1343.5,1554.0 1349.3,1543.5 1370.7,1539.8 C1392.0,1536.1 1440.6,1536.1 1473.2,1536.3 C1505.8,1536.5 1543.1,1538.8 1566.3,1540.9 C1589.6,1543.1 1605.2,1546.2 1612.9,1549.1 C1620.7,1552.0 1620.7,1557.2 1612.9,1558.4 C1605.2,1559.6 1589.6,1555.7 1566.3,1556.1 C1543.1,1556.5 1504.2,1559.1 1473.2,1560.7 C1442.1,1562.4 1401.4,1566.2 1380.0,1565.9 C1358.6,1565.5 1346.6,1562.7 1345.1,1558.4 Z" fill="#b2b2b2"/>
<path d="M1631.6,1525.8 C1643.7,1516.0 1660.9,1509.9 1682.8,1500.2 C1704.7,1490.4 1722.4,1485.0 1741.1,1476.9 C1759.7,1468.7 1766.2,1461.3 1776.0,1459.4 C1785.8,1457.5 1786.7,1462.7 1790.0,1467.6 C1793.2,1472.4 1795.1,1476.9 1792.3,1483.9 C1789.5,1490.8 1788.6,1491.3 1776.0,1502.5 C1763.4,1513.7 1748.0,1526.7 1729.4,1539.8 C1710.8,1552.8 1701.5,1558.9 1682.8,1567.7 C1664.2,1576.6 1647.9,1582.2 1636.2,1584.0 C1624.6,1585.9 1627.4,1584.0 1624.6,1577.0 C1621.8,1570.0 1620.9,1559.3 1622.3,1549.1 C1623.7,1538.8 1619.5,1535.6 1631.6,1525.8 Z" fill="url(#ribs)" stroke="#3a3a3a" stroke-width="2"/>
<path d="M1414,1480 L1414,1512 A32,13 0 0 0 1478,1512 L1478,1480 Z" fill="url(#gCylH2)" stroke="#333" stroke-width="1.6"/>
<ellipse cx="1446" cy="1480" rx="32" ry="13" fill="#8e8e8e" stroke="#333" stroke-width="1.6"/>
<ellipse cx="1446" cy="1478" rx="18" ry="7" fill="#a0a0a0"/>
<path d="M1416,1494 A30,12 0 0 0 1476,1494 M1416,1503 A30,12 0 0 0 1476,1503" stroke="#b5b5b5" stroke-width="2" fill="none"/>
<path d="M1460.4,1434.7 L1485.8,1436.5 L1491.2,1447.4 L1474.9,1476.4 L1460.4,1474.6 Z" fill="#5a5a5a"/>
<path d="M1384.9,1261.8 C1384.9,1257.9 1417.8,1254.3 1435.2,1251.5 C1452.6,1248.8 1501.7,1244.4 1515.3,1241.3 C1529.0,1238.2 1529.7,1235.5 1537.7,1228.3 C1545.6,1221.1 1566.3,1195.5 1575.0,1187.3 C1583.7,1179.1 1595.5,1169.8 1602.9,1166.8 C1610.4,1163.8 1624.1,1163.4 1630.9,1164.9 C1637.6,1166.4 1649.2,1174.0 1653.2,1177.9 C1657.2,1181.9 1660.4,1191.0 1660.7,1194.7 C1660.9,1198.4 1649.1,1198.9 1655.1,1205.9 C1661.0,1212.9 1697.6,1239.4 1705.4,1246.9 C1713.2,1254.3 1713.3,1257.8 1713.8,1261.8 C1714.3,1265.8 1712.7,1271.7 1709.1,1276.7 C1705.5,1281.7 1697.2,1290.1 1686.8,1299.1 C1676.3,1308.0 1644.5,1334.3 1630.9,1343.8 C1617.2,1353.2 1593.0,1366.9 1584.3,1369.9 C1575.6,1372.8 1571.9,1369.4 1565.6,1366.1 C1559.4,1362.9 1546.4,1352.3 1537.7,1345.6 C1529.0,1338.9 1508.4,1320.5 1500.4,1315.8 C1492.5,1311.1 1485.5,1309.7 1478.1,1310.2 C1470.6,1310.7 1450.2,1319.3 1444.5,1319.6 C1438.8,1319.8 1436.5,1317.3 1435.2,1312.1 C1434.0,1306.9 1441.9,1287.1 1435.2,1280.4 C1428.5,1273.7 1384.9,1265.6 1384.9,1261.8 Z" fill="#a3a3a3" stroke="#2e2e2e" stroke-width="2" stroke-linejoin="round"/>
<path d="M1384.9,1261.8 L1435.2,1251.5 L1515.3,1241.3 L1537.7,1232.0 L1580.5,1230.1 L1556.3,1243.2 L1515.3,1259.9 L1448.3,1276.7 L1437.1,1280.4 L1433.4,1271.1 Z" fill="#6a6a6a"/>
<path d="M1575.0,1187.3 C1581.2,1179.1 1595.5,1169.8 1602.9,1166.8 C1610.4,1163.8 1624.1,1163.4 1630.9,1164.9 C1637.6,1166.4 1649.2,1174.0 1653.2,1177.9 C1657.2,1181.9 1661.7,1191.0 1660.7,1194.7 C1659.7,1198.4 1649.2,1201.4 1645.8,1205.9 C1642.3,1210.4 1636.6,1222.3 1634.6,1228.3 C1632.6,1234.2 1633.8,1248.6 1630.9,1250.6 C1627.9,1252.6 1618.9,1245.9 1612.2,1243.2 C1605.5,1240.4 1588.0,1232.1 1580.5,1230.1 C1573.1,1228.1 1557.1,1234.0 1556.3,1228.3 C1555.6,1222.5 1568.7,1195.5 1575.0,1187.3 Z" fill="#8c8c8c"/>
<path d="M1634.6,1204.0 C1637.3,1199.1 1645.6,1200.2 1655.1,1205.9 C1664.5,1211.6 1699.2,1240.4 1705.4,1246.9 C1711.6,1253.3 1709.1,1252.9 1701.7,1254.3 C1694.2,1255.8 1658.4,1259.6 1649.5,1258.1 C1640.5,1256.6 1636.6,1250.4 1634.6,1243.2 C1632.6,1236.0 1631.8,1209.0 1634.6,1204.0 Z" fill="#a6a6a6"/>
<path d="M1649.5,1254.3 L1686.8,1243.2 L1688.6,1246.0 L1651.3,1257.1 Z" fill="#444"/>
<path d="M1448.3,1280.4 C1457.2,1273.5 1498.4,1266.3 1515.3,1261.8 C1532.2,1257.3 1559.6,1247.9 1575.0,1246.9 C1590.4,1245.9 1614.7,1252.9 1630.9,1254.3 C1647.0,1255.8 1691.1,1253.1 1696.1,1258.1 C1701.0,1263.0 1679.3,1282.2 1668.1,1291.6 C1656.9,1301.0 1624.6,1321.4 1612.2,1328.9 C1599.8,1336.3 1584.9,1346.5 1575.0,1347.5 C1565.0,1348.5 1547.6,1340.8 1537.7,1336.3 C1527.8,1331.9 1512.4,1316.9 1500.4,1314.0 C1488.5,1311.0 1455.2,1318.4 1448.3,1314.0 C1441.3,1309.5 1439.3,1287.4 1448.3,1280.4 Z" fill="#b4b4b4"/>
<path d="M1556.3,1345.6 C1563.6,1339.1 1624.7,1309.1 1640.2,1300.9 C1655.6,1292.7 1703.6,1266.8 1711.0,1263.7 C1718.3,1260.5 1714.3,1267.6 1713.8,1269.2 C1713.2,1270.9 1709.0,1276.7 1705.4,1280.4 C1701.7,1284.2 1684.9,1300.2 1677.4,1306.5 C1670.0,1312.8 1640.2,1337.4 1630.9,1343.8 C1621.5,1350.1 1590.6,1367.6 1584.3,1369.9 C1577.9,1372.1 1570.3,1368.6 1567.5,1366.1 C1564.7,1363.7 1549.1,1352.2 1556.3,1345.6 Z" fill="url(#ribsU)"/>
<path d="M1384.9,1261.8 C1389.9,1258.1 1399.2,1259.3 1407.3,1258.1 C1415.3,1256.8 1428.4,1252.5 1433.4,1254.3 C1438.3,1256.2 1436.5,1261.2 1437.1,1269.2 C1437.7,1277.3 1438.9,1294.7 1437.1,1302.8 C1435.2,1310.9 1432.4,1315.8 1425.9,1317.7 C1419.4,1319.6 1405.4,1317.1 1397.9,1314.0 C1390.5,1310.9 1384.6,1304.6 1381.2,1299.1 C1377.8,1293.5 1376.8,1286.6 1377.5,1280.4 C1378.1,1274.2 1379.9,1265.5 1384.9,1261.8 Z" fill="#7e7e7e"/>
<rect x="1261.6" y="1682" width="20" height="40" fill="url(#gCylH2)" stroke="#444" stroke-width="1.3"/><ellipse cx="1271.6" cy="1683.5" rx="10.0" ry="3" fill="#b4b4b4" stroke="#555" stroke-width="1"/><path d="M1261.6,1718 C1261.6,1730 1248.6,1730 1248.6,1744 A23.0,9 0 0 0 1294.6,1744 C1294.6,1730 1281.6,1730 1281.6,1718 Z" fill="url(#gCylH2)" stroke="#3c3c3c" stroke-width="1.6"/><path d="M1249.6,1742 A22.0,8 0 0 0 1293.6,1742" stroke="#5a5a5a" stroke-width="1.3" fill="none"/>
<rect x="1027.0" y="1873" width="20" height="41" fill="url(#gCylH2)" stroke="#444" stroke-width="1.3"/><ellipse cx="1037" cy="1874.5" rx="10.0" ry="3" fill="#b4b4b4" stroke="#555" stroke-width="1"/><path d="M1027.0,1910 C1027.0,1922 1014.0,1922 1014.0,1936 A23.0,9 0 0 0 1060.0,1936 C1060.0,1922 1047.0,1922 1047.0,1910 Z" fill="url(#gCylH2)" stroke="#3c3c3c" stroke-width="1.6"/><path d="M1015.0,1934 A22.0,8 0 0 0 1059.0,1934" stroke="#5a5a5a" stroke-width="1.3" fill="none"/>
<rect x="1434.5" y="1784" width="19" height="41" fill="url(#gCylH2)" stroke="#444" stroke-width="1.3"/><ellipse cx="1444" cy="1785.5" rx="9.5" ry="3" fill="#b4b4b4" stroke="#555" stroke-width="1"/><path d="M1434.5,1822 Q1429.5,1823 1429.5,1830 L1429.5,1863 L1458.5,1863 L1458.5,1830 Q1458.5,1823 1453.5,1822 Z" fill="url(#gCylH2)" stroke="#444" stroke-width="1.3"/><path d="M1429.5,1859 C1429.5,1871 1421.0,1868 1421.0,1882 A23.0,9 0 0 0 1467.0,1882 C1467.0,1868 1458.5,1871 1458.5,1859 Z" fill="url(#gCylH2)" stroke="#3c3c3c" stroke-width="1.6"/><path d="M1422.0,1880 A22.0,8 0 0 0 1466.0,1880" stroke="#5a5a5a" stroke-width="1.3" fill="none"/>
<g transform="translate(209.5,1824.5) rotate(-16.8)"><rect x="0" y="-27" width="90" height="54" fill="url(#gCylV2)" stroke="#333" stroke-width="2"/><ellipse cx="0" cy="0" rx="11" ry="27" fill="#9a9a9a" stroke="#333" stroke-width="2"/><ellipse cx="1" cy="0" rx="8" ry="21" fill="#7a7a7a"/><ellipse cx="3" cy="2" rx="6" ry="17" fill="#8e8e8e"/><rect x="88" y="-20" width="118" height="40" fill="url(#gCylV2)" stroke="#333" stroke-width="2"/><ellipse cx="88" cy="0" rx="5" ry="27" fill="#8a8a8a" stroke="#444" stroke-width="1.5"/><ellipse cx="206" cy="0" rx="7" ry="20" fill="#a0a0a0" stroke="#333" stroke-width="2"/></g>
<ellipse cx="479.0" cy="1737.4" rx="12.5" ry="27" transform="rotate(-16 479.0 1737.4)" fill="none" stroke="#3a3a3a" stroke-width="4"/><ellipse cx="479.0" cy="1737.4" rx="12.5" ry="27" transform="rotate(-16 479.0 1737.4)" fill="none" stroke="#9a9a9a" stroke-width="1.3"/><ellipse cx="509.2" cy="1728.2" rx="12.5" ry="27" transform="rotate(-16 509.2 1728.2)" fill="none" stroke="#3a3a3a" stroke-width="4"/><ellipse cx="509.2" cy="1728.2" rx="12.5" ry="27" transform="rotate(-16 509.2 1728.2)" fill="none" stroke="#9a9a9a" stroke-width="1.3"/><ellipse cx="539.4" cy="1719.0" rx="12.5" ry="27" transform="rotate(-16 539.4 1719.0)" fill="none" stroke="#3a3a3a" stroke-width="4"/><ellipse cx="539.4" cy="1719.0" rx="12.5" ry="27" transform="rotate(-16 539.4 1719.0)" fill="none" stroke="#9a9a9a" stroke-width="1.3"/><ellipse cx="569.6" cy="1709.8" rx="12.5" ry="27" transform="rotate(-16 569.6 1709.8)" fill="none" stroke="#3a3a3a" stroke-width="4"/><ellipse cx="569.6" cy="1709.8" rx="12.5" ry="27" transform="rotate(-16 569.6 1709.8)" fill="none" stroke="#9a9a9a" stroke-width="1.3"/>
<path d="M659.7,1640.4 C660.4,1637.0 666.1,1626.0 671.1,1621.8 C676.0,1617.5 691.2,1608.6 702.1,1604.2 C713.0,1599.7 756.3,1585.4 764.2,1583.5 C772.2,1581.5 766.8,1585.9 770.4,1587.6 C774.1,1589.3 791.9,1596.5 795.3,1598.0 C798.7,1599.4 797.6,1598.2 799.4,1600.0 C801.2,1601.8 808.2,1609.1 810.8,1613.5 C813.5,1617.8 820.9,1631.9 822.2,1637.3 C823.5,1642.7 822.9,1657.0 822.2,1660.1 C821.5,1663.1 817.4,1659.8 816.0,1663.2 C814.5,1666.5 811.2,1685.4 809.8,1689.0 C808.3,1692.7 810.1,1691.4 803.6,1694.2 C797.0,1697.0 764.5,1710.3 753.9,1712.9 C743.2,1715.4 720.1,1716.3 712.5,1716.0 C704.9,1715.6 691.9,1711.7 688.7,1709.8 C685.4,1707.8 687.0,1701.5 684.5,1699.4 C682.0,1697.3 669.7,1695.2 666.9,1692.2 C664.1,1689.1 661.4,1676.9 660.7,1673.5 C660.0,1670.1 660.2,1665.8 660.7,1663.2 C661.2,1660.5 665.0,1653.4 664.8,1650.7 C664.7,1648.1 658.9,1643.8 659.7,1640.4 Z" fill="#9c9c9c" stroke="#333" stroke-width="2"/>
<path d="M693.8,1613.5 C700.2,1607.9 752.0,1590.0 762.2,1588.6 C772.3,1587.3 791.3,1597.5 795.3,1600.0 C799.2,1602.5 805.1,1610.7 801.5,1613.5 C797.9,1616.3 769.4,1624.9 759.0,1628.0 C748.7,1631.1 704.5,1646.0 698.0,1644.5 C691.4,1643.1 687.4,1619.1 693.8,1613.5 Z" fill="#a9a9a9"/>
<path d="M762.2,1590.7 C765.1,1590.1 789.5,1597.7 793.2,1600.0 C796.9,1602.3 802.0,1611.3 799.4,1613.5 C796.8,1615.7 770.8,1622.5 767.3,1621.8 C763.8,1621.0 764.7,1609.3 764.2,1606.2 C763.7,1603.1 759.3,1591.3 762.2,1590.7 Z" fill="#8c8c8c"/>
<path d="M691.8,1654.9 L805.6,1619.7 L807.7,1634.2 L801.5,1638.3 L695.9,1673.5 Z" fill="#b2b2b2" stroke="#555" stroke-width="1.2"/>
<path d="M801.5,1638.3 C802.5,1635.4 806.3,1633.8 807.7,1634.2 C809.2,1634.6 815.2,1639.6 816.0,1642.5 C816.8,1645.4 816.6,1658.5 816.0,1663.2 C815.4,1667.8 811.2,1686.7 809.8,1689.0 C808.3,1691.4 802.7,1689.6 801.5,1687.0 C800.2,1684.4 797.3,1668.0 797.3,1663.2 C797.3,1658.3 800.5,1641.2 801.5,1638.3 Z" fill="#8e8e8e"/>
<path d="M660.7,1642.5 C663.0,1638.7 680.2,1635.0 683.5,1636.3 C686.8,1637.5 692.0,1648.6 693.8,1654.9 C695.7,1661.2 702.6,1694.1 702.1,1699.4 C701.6,1704.7 692.2,1708.4 688.7,1707.7 C685.1,1707.0 669.7,1695.6 666.9,1692.2 C664.1,1688.7 661.3,1678.5 660.7,1673.5 C660.1,1668.6 658.4,1646.2 660.7,1642.5 Z" fill="#979797" stroke="#666" stroke-width="1"/>
<path d="M708.3,1636.3 L747.7,1624.9 L747.7,1630.0 L710.4,1642.5 Z" fill="#fff" stroke="#333" stroke-width="1.8"/>
<path d="M722.8,1679.7 L762.2,1671.4 L763.2,1677.7 L724.9,1685.9 Z" fill="#fff" stroke="#333" stroke-width="1.8"/>
<path d="M795.3,1598.0 L801.5,1601.1 L813.9,1632.1 L816.0,1663.2 L810.8,1689.0" stroke="#333" stroke-width="2.2" fill="none"/>
<g stroke="#a3a3a3" stroke-width="2.4" fill="none"><line x1="1231" y1="268" x2="1231" y2="416"/><line x1="1231" y1="480" x2="1231" y2="691"/><line x1="1231" y1="903" x2="1231" y2="978"/><line x1="1231" y1="1004" x2="1231" y2="1343"/><line x1="1444" y1="555" x2="1444" y2="773"/><line x1="1444" y1="837" x2="1444" y2="978"/><line x1="1444" y1="1004" x2="1444" y2="1488"/><line x1="1444" y1="1532" x2="1444" y2="1700"/><line x1="1444" y1="1726" x2="1444" y2="1783"/><line x1="1271.6" y1="1601" x2="1271.6" y2="1679"/><line x1="1037" y1="1622" x2="1037" y2="1871"/><line x1="420" y1="1757.7" x2="663.9" y2="1675"/><line x1="825" y1="1626" x2="921.5" y2="1594.4"/><line x1="945.5" y1="1589" x2="1012.8" y2="1568"/></g>
<line x1="1553.8" y1="559.3" x2="1705" y2="652.5" stroke="#4a4a4a" stroke-width="2.2"/>
<polyline points="1649.5,1092 1509.7,1138.6 1507,1405 1460.5,1420.7" stroke="#6a6a6a" stroke-width="2.2" fill="none"/>
<g stroke="#2e2e2e" stroke-width="3.6" fill="none">
 <polyline points="1196,224.5 816,224.5 816,772 1003,772"/>
 <line x1="816" y1="425.5" x2="1151" y2="425.5"/>
 <line x1="760" y1="494" x2="816" y2="494"/>
 <line x1="1773" y1="606" x2="1773" y2="659"/>
 <line x1="435.4" y1="911" x2="435.4" y2="963.4"/>
 <polyline points="260.7,1031 260.7,963.4 610.6,963.4 610.6,1123.6"/>
 <line x1="1671" y1="939" x2="1671" y2="992"/>
 <rect x="933" y="992" width="998" height="990"/>
 <line x1="1758" y1="1067" x2="1812" y2="1067"/>
 <polyline points="1295,1712.7 1683,1712.7 1683,1905.7 1059,1905.7"/>
 <line x1="1468" y1="1815" x2="1683" y2="1815"/>
 <line x1="1683" y1="1803" x2="1738" y2="1803"/>
 <line x1="517.5" y1="1453" x2="517.5" y2="1506"/>
 <polyline points="309.8,1760.8 309.8,1574 724.8,1441 724.8,1584.6"/>
 <line x1="506.5" y1="1512" x2="506.5" y2="1691"/>
</g>
<g stroke="#2e2e2e" stroke-width="3.2" fill="#fff">
 <circle cx="731" cy="494" r="28"/>
 <circle cx="1773.7" cy="576.3" r="28"/>
 <circle cx="435.4" cy="883.5" r="28"/>
 <circle cx="1671.4" cy="910" r="28"/>
 <circle cx="1841" cy="1068" r="28"/>
 <circle cx="1767" cy="1805" r="28"/>
 <circle cx="517.5" cy="1425" r="28"/>
</g>
<text transform="translate(731,511.5) scale(0.82,1)" x="0" y="0" font-family="Liberation Sans" font-weight="bold" font-size="50" fill="#111" text-anchor="middle">5</text>
<text transform="translate(1773.7,593.8) scale(0.82,1)" x="0" y="0" font-family="Liberation Sans" font-weight="bold" font-size="50" fill="#111" text-anchor="middle">6</text>
<text transform="translate(435.4,901.0) scale(0.82,1)" x="0" y="0" font-family="Liberation Sans" font-weight="bold" font-size="50" fill="#111" text-anchor="middle">7</text>
<text transform="translate(1671.4,927.5) scale(0.82,1)" x="0" y="0" font-family="Liberation Sans" font-weight="bold" font-size="50" fill="#111" text-anchor="middle">1</text>
<text transform="translate(1841,1085.5) scale(0.82,1)" x="0" y="0" font-family="Liberation Sans" font-weight="bold" font-size="50" fill="#111" text-anchor="middle">3</text>
<text transform="translate(1767,1822.5) scale(0.82,1)" x="0" y="0" font-family="Liberation Sans" font-weight="bold" font-size="50" fill="#111" text-anchor="middle">2</text>
<text transform="translate(517.5,1442.5) scale(0.82,1)" x="0" y="0" font-family="Liberation Sans" font-weight="bold" font-size="50" fill="#111" text-anchor="middle">4</text>
</svg>
</body></html>
